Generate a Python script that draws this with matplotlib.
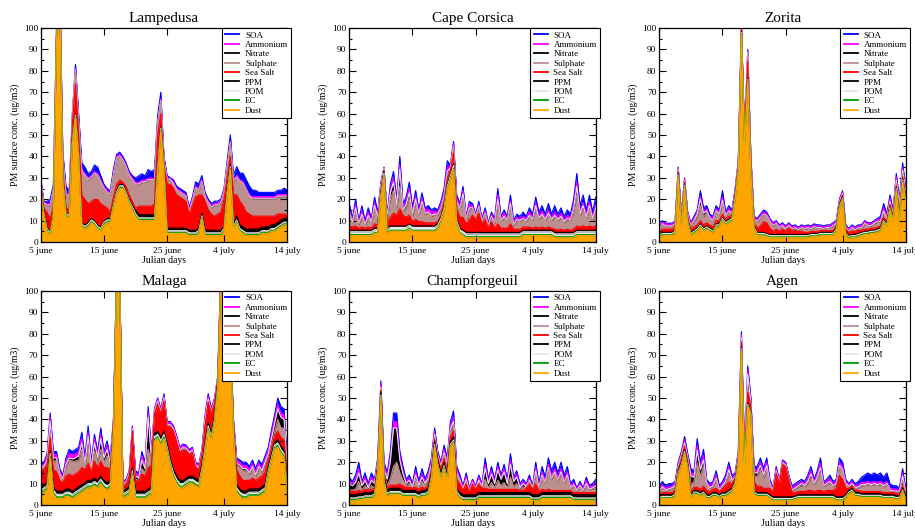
import numpy as np
import matplotlib
matplotlib.use('Agg')
from matplotlib import pyplot as plt
from matplotlib.lines import Line2D
from matplotlib.ticker import MultipleLocator

plt.rcParams['font.family'] = ['Liberation Serif', 'DejaVu Serif']
plt.rcParams['figure.dpi'] = 100

# julian days, one value every 12 h (5 june -> 14 july)
days = np.arange(156, 195.01, 0.5)

# ---------------- Lampedusa (ug/m3) ----------------
lamp_dust = [24, 12, 5, 3, 12, 95, 118, 28, 12, 11, 46, 58, 40, 7, 6, 7, 9, 8, 6, 5,
             8, 9, 9, 16, 22, 25, 25, 22, 18, 15, 12, 10, 10, 10, 10, 10, 10, 32, 52, 33,
             4, 4, 4, 4, 4, 4, 4, 3, 3, 3, 4, 11, 3, 3, 3, 3, 3, 3, 5, 22,
             34, 6, 9, 5, 4, 3, 3, 3, 3, 3, 4, 4, 4, 5, 5, 6, 7, 8, 8]
lamp_ec = [.5, .5, .5, .5, .5, .5, .5, .5, .5, .5, .5, .5, .5, .5, .5, .5, .5, .5, .5, .5,
           .5, .5, .5, .5, .5, .5, .5, .5, .5, .5, .5, .5, .5, .5, .5, .5, .5, .5, .5, .5,
           .5, .5, .5, .5, .5, .5, .5, .5, .5, .5, .5, .5, .5, .5, .5, .5, .5, .5, .5, .5,
           .5, .5, .5, .5, .5, .5, .5, .5, .5, .5, .5, .5, .5, .5, .5, .5, .5, .5, .5]
lamp_pom = [.8, .8, .8, .8, .8, .8, .8, .8, .8, .8, .8, .8, .8, .8, .8, .8, .8, .8, .8, .8,
            .8, .8, .8, .8, .8, .8, .8, .8, .8, .8, .8, .8, .8, .8, .8, .8, .8, .8, .8, .8,
            .8, .8, .8, .8, .8, .8, .8, .8, .8, .8, .8, .8, .8, .8, .8, .8, .8, .8, .8, .8,
            .8, .8, .8, .8, .8, .8, .8, .8, .8, .8, .8, .8, .8, .8, .8, .8, .8, .8, .8]
lamp_ppm = [.6, .6, .6, .6, .6, .6, .6, .6, .6, .6, .6, .6, .6, .6, .6, .6, .6, .6, .6, .6,
            .6, .6, .6, .6, .6, .6, .6, .6, .6, .6, 1.5, 1.5, 1.5, 1.5, 1.5, 1.5, 1.5, .6, .6, .6,
            1.2, 1.2, 1.2, 1.2, 1.2, 1.2, 1.2, 1.2, 1.2, 1.2, 1.2, 1.2, 1.2, 1.2, 1.2, 1.2, 1.2, 1.2, 1.2, 1.2,
            1.2, 1.2, 1.8, 1.8, 1.8, 1.8, 1.8, 1.8, 1.8, 1.8, 1.8, 1.8, 1.8, 1.8, 1.8, 1.8, 1.8, 1.8, 1.8]
lamp_salt = [1, 2, 7, 6, 3, .1, .1, 4, 2, 2, 7, 14, 8, 13, 12, 9, 8, 10, 12, 11,
             7, 5, 3, 3, 3, 2, 1, 2, 2, 2, 1, 4, 4, 4, 4, 4, 5, 16, 6, 1,
             20.5, 20.5, 18.5, 15.5, 14.5, 13.5, 12.5, 7.5, 11.5, 15.5, 15.5, 8.5, 13.5, 9.5, 7.5, 6.5, 7.5, 8.5, 12.5, 5.5,
             3.5, 13.5, 10, 11, 10, 8, 7, 6, 6, 6, 5, 5, 5, 4, 4, 4, 3, 2, 2]
lamp_sulph = [1, 2, 3, 6, 7, 2, 2, 5, 6, 6, 3, 6, 6, 11, 11, 11, 11, 12, 11, 10,
              8, 7, 8, 10, 12, 11, 10, 9, 9, 10, 11, 10, 11, 11, 12, 12, 11, 5, 6, 2,
              2, 2, 2, 2, 2, 2, 2, 1, 2, 4, 2, 6, 2, 3, 3, 5, 4, 4, 3, 5,
              6, 6, 8, 9, 10, 10, 8, 8, 8, 8, 8, 8, 8, 8, 8, 8, 8, 8, 8]
lamp_nitr = [.3, .3, .3, .3, .3, .3, .3, .3, .3, .3, .3, .3, .3, .3, .3, .3, .3, .3, .3, .3,
             .3, .3, .3, .3, .3, .3, .3, .3, .3, .3, .3, .3, .3, .3, .3, .3, .3, .3, .3, .3,
             .3, .3, .3, .3, .3, .3, .3, .3, .3, .3, .3, .3, .3, .3, .3, .3, .3, .3, .3, .3,
             .3, .3, .3, .3, .3, .3, .3, .3, .3, .3, .3, .3, .3, .3, .3, .3, .3, .3, .3]
lamp_ammo = [.8, .5, .8, .8, .8, .8, .8, .8, .8, .8, .8, .8, .8, .8, .8, .8, .8, .8, .8, .8,
             .8, .8, .8, .8, .8, .8, .8, .8, .8, .8, .8, .8, .8, .8, .8, .8, .8, .8, .8, .8,
             .8, .5, .8, .8, .8, .8, .8, .8, .8, .8, .8, .8, .8, .8, .8, .8, .8, .8, .8, .8,
             .8, .8, .8, .8, .8, .8, .8, .8, .8, .8, .8, .8, .8, .8, .8, .8, .8, .8, .8]
lamp_soa = [1, .2, 1, 2, 2, 1, 1, 2, 3, 2, 1, 2, 3, 3, 3, 2, 2, 3, 3, 2,
            1, 1, 1, 2, 1, 1, 1, 1, 1, 1, 2, 3, 3, 2, 4, 3, 4, 3, 3, 1,
            1, .2, 1, 1, 1, 1, 1, 1, 1, 2, 2, 2, 1, 1, 1, 1, 1, 1, 1, 2,
            3, 2, 4, 3, 4, 4, 4, 3, 3, 2, 2, 2, 2, 2, 2, 2, 2, 3, 2]

# ---------------- Cape Corsica ----------------
cors_dust = [3, 3, 3, 3, 3, 3, 3, 3, 4, 4, 20, 30.5, 4, 5, 5, 5, 5, 5, 5, 6,
             5, 5, 5, 5, 5, 5, 5, 5, 6, 9, 14, 24, 29, 34, 8, 4, 3, 2, 2, 2,
             2, 2, 2, 2, 2, 2, 2, 2, 2, 2, 2, 2, 2, 2, 2, 3, 3, 3, 3, 3,
             3, 3, 3, 3, 3, 2, 2, 2, 2, 2, 2, 2, 3, 3, 3, 3, 3, 3, 3]
cors_ec = [.5, .5, .5, .5, .5, .5, .5, .5, .5, .5, .5, .5, .5, .5, .5, .5, .5, .5, .5, .5,
           .5, .5, .5, .5, .5, .5, .5, .5, .5, .5, .5, .5, .5, .5, .5, .5, .5, .5, .5, .5,
           .5, .5, .5, .5, .5, .5, .5, .5, .5, .5, .5, .5, .5, .5, .5, .5, .5, .5, .5, .5,
           .5, .5, .5, .5, .5, .5, .5, .5, .5, .5, .5, .5, .5, .5, .5, .5, .5, .5, .5]
cors_pom = [1.3, 1.3, 1.3, 1.3, 1.3, 1.3, 1.3, 1.3, 1.3, 1.3, 1.3, 1.3, 1.3, 1.3, 1.3, 1.3, 1.3, 1.3, 1.3, 1.3,
            1.3, 1.3, 1.3, 1.3, 1.3, 1.3, 1.3, 1.3, 1.3, 1.3, 1.3, 1.3, 1.3, 1.3, 1.3, 1.3, 1.3, 1.3, 1.3, 1.3,
            1.3, 1.3, 1.3, 1.3, 1.3, 1.3, 1.3, 1.3, 1.3, 1.3, 1.3, 1.3, 1.3, 1.3, 1.3, 1.3, 1.3, 1.3, 1.3, 1.3,
            1.3, 1.3, 1.3, 1.3, 1.3, 1.3, 1.3, 1.3, 1.3, 1.3, 1.3, 1.3, 1.3, 1.3, 1.3, 1.3, 1.3, 1.3, 1.3]
cors_ppm = [.7, .7, .7, .7, .7, .7, .7, .7, .7, .7, .7, .7, .7, .7, .7, .7, .7, .7, .7, .7,
            .7, .7, .7, .7, .7, .7, .7, .7, .7, .7, .7, .7, .7, .7, .7, .7, .7, .7, .7, .7,
            .7, .7, .7, .7, .7, .7, .7, .7, .7, .7, .7, .7, .7, .7, .7, .7, .7, .7, .7, .7,
            .7, .7, .7, .7, .7, .7, .7, .7, .7, .7, .7, .7, .7, .7, .7, .7, .7, .7, .7]
cors_salt = [2, 1.5, 2, 1, 1.5, 1, 1.5, 1, 2, 1.5, 1.5, .5, 2, 4, 6, 5, 8, 5, 4, 4,
             2, 3, 2, 2, 1.5, 1.5, 1.5, 1.5, 1, 1, 2, 3, 2, 5, 5, 5, 6, 4, 6, 8,
             6, 9, 4, 6, 2, 5, 2, 4, 2, 2, 2, 4, 1.5, 1.5, 1.5, 1.5, 1.5, 1.5, 1, 1.5,
             1, 1.5, 1, 1.5, 1, 1.5, 1, 1.5, 1, 1.5, 1, 1.5, 2, 1.5, 2, 1.5, 2, 1.5, 2]
cors_sulph = [4.5, 1.5, 6, 1.5, 4.5, 1, 4, 2, 7, 2.5, 1.5, .7, 1.5, 8.5, 10.5, 3, 10.5, 1.5, 4.5, 7.5,
              2.5, 7.5, 3, 8, 4, 4.5, 3, 3.5, 3, 3, 2, 1.5, .5, 2.5, 2.5, 3.5, 9, 1.5, 4.5, 3,
              1, 2.5, 1, 2.5, 1, 2, 2, 8.5, 3, 4.5, 3, 7.5, 1.5, 4, 3.5, 3.5, 2.5, 4.5, 3.5, 8,
              4, 5, 3.5, 5.5, 3.5, 5.5, 4.5, 5, 3.5, 4, 4.5, 8, 14.5, 5, 7.5, 3.5, 7.5, 3, 7]
cors_nitr = [2, .5, 2.5, .5, 1.5, .5, 1.5, .5, 1.5, 1, .5, .2, 1, 3, 4, 1.5, 8, 1, 1.5, 3,
             1, 2, .5, 1.5, .5, .5, .5, .5, .5, .5, 1, 2, .5, .5, 1, .5, 2, .5, 1, .5,
             .3, .5, .3, .5, .3, .5, .5, 3, .5, 1, .5, 2, .5, .5, .5, .5, .5, 1, .5, 2,
             .5, 1, .5, 1, .5, 1, .5, 1, .5, 1, .5, 1.5, 4, 1, 2, 1, 2, 1, 1.5]
cors_ammo = [1.5, 1, 1.5, 1, 1.5, 1, 1.5, 1, 1.5, 1, 1, .3, 1, 1.5, 2, 1.5, 2, 1.5, 1.5, 2,
             1.5, 1.5, 1, 1.5, 1.5, 1.5, 1.5, 1.5, 1, 1.5, 1.5, 2, 1, 1.5, 1.5, 1.5, 1.5, 1, 1.5, 1,
             .7, 1, .7, 1, .7, 1, 1, 2, 1, 1.5, 1, 1.5, 1, 1, 1, 1, 1, 1.5, 1, 1.5,
             1, 1.5, 1, 1.5, 1, 1.5, 1, 1.5, 1, 1.5, 1, 1.5, 2, 1.5, 1.5, 1.5, 1.5, 1, 1.5]
cors_soa = [2.5, 1, 2.5, .5, 2.5, 1, 2, 1, 2.5, 1.5, 1, .3, 1, 2.5, 3, 1.5, 4, 1.5, 2, 3,
            1.5, 2.5, 1, 2.5, 1, 1.5, 1, 1.5, 1, 1.5, 2, 3, .5, 1, 1.5, 1, 2, .5, 1.5, 1,
            .5, 1.5, .5, 1.5, .5, 1, 1, 3, 1, 1.5, 1, 2.5, 1, 1.5, 1, 2, 1, 2, 1.5, 2.5,
            2, 2.5, 1.5, 3, 1.5, 3, 1.5, 2.5, 1.5, 2.5, 1.5, 3, 4, 2.5, 3.5, 2, 3.5, 2, 3.5]

# ---------------- Zorita ----------------
zor_dust = [2, 3, 3, 3, 3, 4, 30.5, 7, 25.5, 9, 3, 4, 5, 7, 5, 6, 5, 4, 7, 7,
            10, 8, 9, 10, 19.5, 33, 97, 45, 75, 32, 6, 3, 3, 3, 2.5, 2, 2, 2, 2, 2,
            2, 2, 2, 2, 2, 2, 2, 2, 2.5, 2.5, 2.5, 3, 3, 3, 3, 3, 5, 15.5, 19.5, 3,
            1.5, 2, 2, 2.5, 3, 3.5, 3.5, 4, 4, 4.5, 5, 9, 7, 15, 9.5, 24, 10, 28, 19]
zor_ec = [.4, .4, .4, .4, .4, .4, .4, .4, .4, .4, .4, .4, .4, .4, .4, .4, .4, .4, .4, .4,
          .4, .4, .4, .4, .4, .4, .4, .4, .4, .4, .4, .4, .4, .4, .4, .4, .4, .4, .4, .4,
          .4, .4, .4, .4, .4, .4, .4, .4, .4, .4, .4, .4, .4, .4, .4, .4, .4, .4, .4, .4,
          .4, .4, .4, .4, .4, .4, .4, .4, .4, .4, .4, .4, .4, .4, .4, .4, .4, .4, .4]
zor_pom = [.6, .6, .6, .6, .6, .6, .6, .6, .6, .6, .6, .6, .6, .6, .6, .6, .6, .6, .6, .6,
           .6, .6, .6, .6, .6, .6, .6, .6, .6, .6, .6, .6, .6, .6, .6, .6, .6, .6, .6, .6,
           .6, .6, .6, .6, .6, .6, .6, .6, .6, .6, .6, .6, .6, .6, .6, .6, .6, .6, .6, .6,
           .6, .6, .6, .6, .6, .6, .6, .6, .6, .6, .6, .6, .6, .6, .6, .6, .6, .6, .6]
zor_ppm = [.5, .5, .5, .5, .5, .5, .5, .5, .5, .5, .5, .5, .5, .5, .5, .5, .5, .5, .5, .5,
           .5, .5, .5, .5, .5, .5, .5, .5, .5, .5, .5, .5, .5, .5, .5, .5, .5, .5, .5, .5,
           .5, .5, .5, .5, .5, .5, .5, .5, .5, .5, .5, .5, .5, .5, .5, .5, .5, .5, .5, .5,
           .5, .5, .5, .5, .5, .5, .5, .5, .5, .5, .5, .5, .5, .5, .5, .5, .5, .5, .5]
zor_salt = [1, 1.5, 1.5, 1.5, 1.5, 1.5, 1, 1, 1, 1, 1.5, 1.5, 1.5, 1.5, 1.5, 1.5, 1.5, 1.5, 1.5, 1.5,
            1.5, 1, 1.5, 1, 1, 1, 1.5, 1.5, 8, 3, 1.5, 2, 3, 5, 5, 3, 1.5, 2.5, 1.5, 2.5,
            1.5, 3, 2, 2, 1.5, 1.5, 1, 1, 1, 1, 1, .8, .8, .8, .8, .8, .8, .8, .8, 1.5,
            1.5, 1.5, 1.5, 1.5, 1, 1, 1, 1, 1, 1, 1, 1, 1, 1, 1, 1, 1, 1, 1]
zor_sulph = [1, 2.2, 1.2, 1.2, 1.2, 1.2, .5, 1.9, .5, .9, 1.4, 2.5, 3.5, 7, 4, 4.5, 2.5, 2.5, 4, 2.5,
             5, 1, 2, .5, .5, .5, .5, .5, 3.7, 2, 1.3, 2.9, 3.6, 3.2, 3.1, 2.8, 2.4, 2.4, 1.4, 1.4,
             .9, .9, .4, .9, .4, 1.4, 1.4, 1.9, .9, 1.9, 1.4, 1.1, .6, 1.1, 1.1, 2.1, 1.1, .6, .6, .4,
             .4, 1.4, .4, .9, .9, 2.4, 1.4, .9, 1.9, 2.4, 1.7, 2, 1, .5, .5, 1, 4, 1.5, .5]
zor_nitr = [.3, .3, .3, .3, .3, .3, .3, .3, .3, .3, .3, .5, 1.5, 3, 1.5, 1, .5, .5, .5, .5,
            1.5, .5, .5, .3, .5, .5, .3, .3, .3, .3, .3, .3, .3, .3, .3, .3, .3, .3, .3, .3,
            .3, .3, .3, .3, .3, .3, .3, .3, .3, .3, .3, .3, .3, .3, .3, .3, .3, .3, .3, .3,
            .3, .3, .3, .3, .3, .3, .3, .3, .3, .3, .3, 1, .5, 1, .5, 1.5, 1, 1.5, 1]
zor_ammo = [.8, .8, .8, .8, .8, .8, .8, .8, .8, .8, .8, 1, 1, 1.5, 1, 1, 1, 1, 1, 1,
            1.5, 1, 1, .8, 1, 1, .8, .8, 1, .8, .8, .8, .8, 1, .8, .8, .8, .8, .8, .8,
            .8, .8, .8, .8, .8, .8, .8, .8, .8, .8, .8, .8, .8, .8, .8, .8, .8, .8, .8, .8,
            .8, .8, .8, .8, .8, .8, .8, .8, .8, .8, 1, 1.5, 1, 1.5, 1, 1.5, 1, 1.5, 1]
zor_soa = [.5, .7, .5, .5, .5, .5, .4, .5, .4, .5, .5, 1, 1, 2.5, 1.5, 1.5, 1, 1, 1.5, 1,
           3, 1, 1.5, .9, 1, .5, .4, .4, .5, .4, .6, .5, .8, 1, .8, .6, .5, .5, .5, .5,
           .5, .5, .5, .5, .5, .5, .5, .5, .5, .5, .5, .5, .5, .5, .5, .5, .5, .5, .5, .5,
           .5, .5, .5, .5, .5, .5, .5, .5, .5, .5, 1.5, 2, 1, 1.5, 1, 1.5, 1.5, 2, 1]

# ---------------- Malaga ----------------
mal_dust = [5, 6, 7, 22, 5, 3, 3, 3, 4, 4, 3, 4, 5, 6, 7, 8, 8, 9, 8, 10,
            8, 7, 8, 33, 104.5, 104.5, 3, 4, 5, 14, 3, 3, 3, 3, 4, 5, 30, 31, 28, 31,
            25, 18, 13, 10, 8, 8, 9, 10, 10, 9, 8, 15, 25, 35, 30, 38, 53.5, 104.5, 102.5, 104.5,
            74.5, 32.5, 6, 4, 3, 3, 4, 4, 4, 4, 5, 6, 14, 20, 26, 27, 24, 22, 6]
mal_ec = [.8, .8, .8, .8, .8, .8, .8, .8, .8, .8, .8, .8, .8, .8, .8, .8, .8, .8, .8, .8,
          .8, .8, .8, .8, .8, .8, .8, .8, .8, .8, .8, .8, .8, .8, .8, .8, .8, .8, .8, .8,
          .8, .8, .8, .8, .8, .8, .8, .8, .8, .8, .8, .8, .8, .8, .8, .8, .8, .8, .8, .8,
          .8, .8, .8, .8, .8, .8, .8, .8, .8, .8, .8, .8, .8, .8, .8, .8, .8, .8, .8]
mal_pom = [1.2, 1.2, 1.2, 1.2, 1.2, 1.2, 1.2, 1.2, 1.2, 1.2, 1.2, 1.2, 1.2, 1.2, 1.2, 1.2, 1.2, 1.2, 1.2, 1.2,
           1.2, 1.2, 1.2, 1.2, 1.2, 1.2, 1.2, 1.2, 1.2, 1.2, 1.2, 1.2, 1.2, 1.2, 1.2, 1.2, 1.2, 1.2, 1.2, 1.2,
           1.2, 1.2, 1.2, 1.2, 1.2, 1.2, 1.2, 1.2, 1.2, 1.2, 1.2, 1.2, 1.2, 1.2, 1.2, 1.2, 1.2, 1.2, 1.2, 1.2,
           1.2, 1.2, 1.2, 1.2, 1.2, 1.2, 1.2, 1.2, 1.2, 1.2, 1.2, 1.2, 1.2, 1.2, 1.2, 1.2, 1.2, 1.2, 1.2]
mal_ppm = [1.5, 1.5, 1.5, 1.5, 1.5, 1.5, 1.5, 1.5, 1.5, 1.5, 1.5, 1.5, 1.5, 1.5, 1.5, 1.5, 1.5, 1.5, 1.5, 1.5,
           1.5, 1.5, 1.5, 1.5, 1.5, 1.5, 1.5, 1.5, 1.5, 1.5, 1.5, 1.5, 1.5, 1.5, 1.5, 1.5, 1.5, 1.5, 1.5, 1.5,
           1.5, 1.5, 1.5, 1.5, 1.5, 1.5, 1.5, 1.5, 1.5, 1.5, 1.5, 1.5, 1.5, 1.5, 1.5, 1.5, 1.5, 1.5, 1.5, 1.5,
           1.5, 1.5, 1.5, 1.5, 1.5, 1.5, 1.5, 1.5, 1.5, 1.5, 1.5, 1.5, 1.5, 1.5, 1.5, 1.5, 1.5, 1.5, 1.5]
mal_salt = [8, 7, 8, 6, 8, 9, 5, 4, 6, 7, 7, 7, 7, 8, 6, 8, 4, 8, 6, 7,
            6, 7, 5, .5, .5, .5, 2.5, 2, 5, 17, 5, 4.5, 8, 7, 10, 10, 9, 12.5, 11, 14,
            8, 15, 18, 16, 13, 14, 13, 10, 11, 5, 5, 5, 8.5, 9.5, 9, 6, 1.5, .5, .5, .5,
            .5, 2, 7, 6, 5, 5, 4, 5, 4, 5, 5, 6, 3.5, 3, 3, 4, 4, 5, 5]
mal_sulph = [1, 1, 1.5, 2.5, 3.5, 5.5, 2.5, 1, 4.5, 6.5, 7, 6, 5.5, 8.5, 1.5, 7.5, .5, 4.5, 2.5, 5.5,
             2.5, 5.5, 1, .5, .5, .5, .4, .9, .9, .5, .5, .5, 2.5, 1.5, 8.5, 1.5, .5, 1, .5, 1,
             .5, .5, .5, 1, .5, 1, .5, .5, .5, .5, .5, .5, .5, .5, .5, .5, .5, .5, .5, .5,
             .5, .5, 2, 4, 4.5, 4.5, 2.5, 4.5, 1.5, 4.5, 1.5, 3, 1, 1.5, 1.5, 5.5, 4.5, 5.5, .5]
mal_nitr = [.5, .5, 1, 5, 2, 1, .5, .5, 1, 1, 1, 1.5, 2, 3, 1, 5, 1, 4, 2, 5,
            2, 3, 1.5, .5, .2, .2, .3, .3, .3, .5, 1.5, 1, 4, 2, 15, 2, .5, .5, .5, .5,
            .5, .5, .5, .5, .5, .5, .5, .5, .5, .5, .5, .5, 2, 1, .5, .5, .2, .2, .2, .2,
            .2, .3, 1, 1, 1, 1, 1, 1, 1, 1, 1, 1.5, 2, 3, 4, 5, 5, 4, 2]
mal_ammo = [1, 1, 1.5, 2, 1.5, 1.5, 1.5, 1, 1.5, 2, 2, 2, 2, 2, 1.5, 2, 1.5, 2, 1.5, 2,
            1.5, 2, 1.5, 1, .5, .5, .8, .8, .8, 1, 1.5, 1.5, 2, 1.5, 2, 1.5, 1, 1, 1, 1,
            1, 1, 1, 1, 1, 1, 1, 1, 1, 1, 1, 1, 1.5, 1.5, 1, 1, .5, .5, .5, .5,
            .5, .7, 1.5, 1.5, 1.5, 1.5, 1.5, 1.5, 1.5, 1.5, 1.5, 1.5, 1.5, 2, 2, 2, 2, 2, 1.5]
mal_soa = [1, 1, 1.5, 2, 1.5, 1.5, 1, 1, 1.5, 2, 1.5, 2, 2, 3, 1.5, 3, 1.5, 2, 1.5, 3,
           1.5, 2, 1.5, 1, .3, .3, .5, .5, .5, .5, 1, 1, 2, 1.5, 3, 1.5, .5, .5, .5, 1,
           .5, .5, .5, .5, .5, .5, .5, .5, .5, .5, .5, .5, 1, 1, .5, .5, .3, .3, .3, .3,
           .3, .5, 1, 1, 1.5, 1.5, 1.5, 1.5, 1.5, 1.5, 1.5, 1.5, 1.5, 2, 2, 3, 3, 3, 1.5]

# ---------------- Champforgeuil ----------------
cha_dust = [2, 2, 2, 2.5, 2.5, 3, 3, 3, 4, 15, 50, 10, 4, 5, 5, 5, 5, 4, 4, 4,
            4, 4, 3, 4, 4, 5, 12, 27, 18, 12, 17, 11, 27, 29, 5, 3, 2, 2, 2, 2,
            2, 3, 3, 3, 3, 3, 3, 3, 3, 3, 3, 3, 3, 3, 3, 3, 3, 3, 2, 2,
            2, 3, 3, 3, 3, 3, 3, 3, 3, 3, 3, 2, 2, 2, 2, 2, 2, 2, 2]
cha_ec = [.5, .5, .5, .5, .5, .5, .5, .5, .5, .5, .5, .5, .5, .5, .5, .5, .5, .5, .5, .5,
          .5, .5, .5, .5, .5, .5, .5, .5, .5, .5, .5, .5, .5, .5, .5, .5, .5, .5, .5, .5,
          .5, .5, .5, .5, .5, .5, .5, .5, .5, .5, .5, .5, .5, .5, .5, .5, .5, .5, .5, .5,
          .5, .5, .5, .5, .5, .5, .5, .5, .5, .5, .5, .5, .5, .5, .5, .5, .5, .5, .5]
cha_pom = [.8, .8, .8, .8, .8, .8, .8, .8, .8, .8, .8, .8, .8, .8, .8, .8, .8, .8, .8, .8,
           .8, .8, .8, .8, .8, .8, .8, .8, .8, .8, .8, .8, .8, .8, .8, .8, .8, .8, .8, .8,
           .8, .8, .8, .8, .8, .8, .8, .8, .8, .8, .8, .8, .8, .8, .8, .8, .8, .8, .8, .8,
           .8, .8, .8, .8, .8, .8, .8, .8, .8, .8, .8, .8, .8, .8, .8, .8, .8, .8, .8]
cha_ppm = [1.5, 1.5, 1.5, 1.5, 1.5, 1.5, 1.5, 1.5, 1.5, 1.5, 1.5, 1.5, 1.5, 1.5, 1.5, 1.5, 1.5, 1.5, 1.5, 1.5,
           1.5, 1.5, 1.5, 1.5, 1.5, 1.5, 1.5, 1.5, 1.5, 1.5, 1.5, 1.5, 1.5, 1.5, 1.5, 1.5, 1.5, 1.5, 1.5, 1.5,
           1.5, 1.5, 1.5, 1.5, 1.5, 1.5, 1.5, 1.5, 1.5, 1.5, 1.5, 1.5, 1.5, 1.5, 1.5, 1.5, 1.5, 1.5, 1.5, 1.5,
           1.5, 1.5, 1.5, 1.5, 1.5, 1.5, 1.5, 1.5, 1.5, 1.5, 1.5, 1.5, 1.5, 1.5, 1.5, 1.5, 1.5, 1.5, 1.5]
cha_salt = [1.5, 1.5, 1.5, 1.5, 1, 1.5, 1, 1.5, 1, 1, 1, 1.5, 1.5, 1.5, 1.5, 1.5, 2, 2, 1.5, 1.5,
            1, 1.5, 1.5, 1.5, 1, 1.5, 1.5, 1, 1, 2, 2, 2, 2, 3, 4, 4, 2, 5, 1.5, 5,
            2.5, 4, 2, 2, 1.5, 1.5, 1.5, 1.5, 1.5, 1.5, 1.5, 1.5, 1.5, 1.5, 1, 1, 2, 4, 2.5, 5,
            1.5, 1.5, 1, 1.5, 1, 1, 1, 1, 1, 1, 1, 1, 1, 1, 1, 1, 1, 1, 1]
cha_sulph = [.7, .7, 1.2, 4.2, .7, 1.7, .2, 1.7, .2, .2, .2, .7, .7, 3.2, 8.7, 10.7, 5.2, 2.7, .7, 1.7,
             .2, 3.7, .7, 2.7, 1.2, 1.7, 1.7, 1.2, .7, .7, 1.7, 2.2, 2.7, 2.7, 2.2, 1.2, .2, 1.2, .2, .2,
             .2, .7, .2, 4.2, .7, 3.2, .7, 4.2, 1.7, 3.2, .7, 5.7, 1.2, 2.7, .2, 1.7, .2, 1.2, .2, 4.2,
             1.2, 5.7, 3.2, 9.2, 5.2, 7.7, 4.2, 7.7, 3.2, 6.2, .7, 2.7, .7, 2.2, .7, 3.2, 1.2, 1.7, 2.2]
cha_nitr = [3, 2, 3, 4, 2, 2.5, 1, 2.5, 2, 1, 1, 2, 3, 8, 18, 16, 6, 3, 1, 1.5,
            .5, 2, 1, 2, 1, 1.5, 1, 1, .5, .5, 1, 1, 1, 1.5, 1, .5, .5, 1, .3, .5,
            .3, 1, .5, 5, 2, 4, 2, 5, 3, 5, 2, 6, 2.5, 3, 1, 1.5, .5, .5, .3, 2,
            .5, 1, .5, 1, .5, 1, .5, 1, .5, 1, .5, 1, .3, 1, .3, 1, .5, .5, 1]
cha_ammo = [1.5, 1, 1.5, 2, 1, 1.5, 1, 1.5, 1, 1, 1.5, 1.5, 1.5, 2, 3, 3, 2, 1.5, 1, 1,
            .8, 1.5, 1, 1.5, 1, 1.5, 1.5, 1.5, 1, 1, 1.5, 1.5, 1.5, 2, 1.5, 1, .8, 1.5, .7, 1,
            .7, 1.5, 1, 2, 1, 1.5, 1, 1.5, 1, 1.5, 1, 2, 1, 1.5, 1, 1, .8, 1, .7, 1.5,
            1, 1.5, 1, 1.5, 1.5, 1.5, 1.5, 1.5, 1.5, 1.5, 1, 1, .7, 1, .7, 1.5, .8, 1, 1.5]
cha_soa = [1.5, 1, 2, 3, 1, 2, 1, 2, 1, 1, 1.5, 1.5, 1.5, 2.5, 4, 4, 2, 2, 1, 1.5,
           .7, 2.5, 1, 2.5, 1, 2, 1.5, 1.5, 1, 1, 2, 1.5, 2, 3, 1.5, 1.5, .7, 1.5, .5, .5,
           .5, 1, .5, 3, 1, 2, 1, 2, 1, 2, 1, 3, 1, 1.5, 1, 1, .7, 1.5, .5, 2.5,
           1, 2.5, 1.5, 3, 2, 3, 2, 3, 2, 2.5, 1, 1.5, .5, 1, .5, 1.5, .7, 1, 1.5]

# ---------------- Agen ----------------
agen_dust = [2.5, 3, 3, 3, 3, 4, 14, 18, 24, 17, 3, 5, 5, 4, 5, 3, 3, 4, 4, 3,
             4, 4, 5, 6, 9.5, 19, 72, 18, 46, 42, 5, 4, 4, 4, 4, 3, 2, 2, 2, 2,
             2, 2, 2, 2.5, 3, 3, 3, 3, 3, 3, 3, 3, 3, 3, 3, 3, 2, 2, 2, 3,
             5, 6, 4, 4, 3.5, 3.5, 3.5, 3.5, 3.5, 3.5, 3.5, 3, 3, 3, 3, 2.5, 2.5, 6, 2]
agen_ec = [.4, .4, .4, .4, .4, .4, .4, .4, .4, .4, .4, .4, .4, .4, .4, .4, .4, .4, .4, .4,
           .4, .4, .4, .4, .4, .4, .4, .4, .4, .4, .4, .4, .4, .4, .4, .4, .4, .4, .4, .4,
           .4, .4, .4, .4, .4, .4, .4, .4, .4, .4, .4, .4, .4, .4, .4, .4, .4, .4, .4, .4,
           .4, .4, .4, .4, .4, .4, .4, .4, .4, .4, .4, .4, .4, .4, .4, .4, .4, .4, .4]
agen_pom = [.6, .6, .6, .6, .6, .6, .6, .6, .6, .6, .6, .6, .6, .6, .6, .6, .6, .6, .6, .6,
            .6, .6, .6, .6, .6, .6, .6, .6, .6, .6, .6, .6, .6, .6, .6, .6, .6, .6, .6, .6,
            .6, .6, .6, .6, .6, .6, .6, .6, .6, .6, .6, .6, .6, .6, .6, .6, .6, .6, .6, .6,
            .6, .6, .6, .6, .6, .6, .6, .6, .6, .6, .6, .6, .6, .6, .6, .6, .6, .6, .6]
agen_ppm = [.8, .8, .8, .8, .8, .8, .8, .8, .8, .8, .8, .8, .8, .8, .8, .8, .8, .8, .8, .8,
            .8, .8, .8, .8, .8, .8, .8, .8, .8, .8, .8, .8, .8, .8, .8, .8, .8, .8, .8, .8,
            .8, .8, .8, .8, .8, .8, .8, .8, .8, .8, .8, .8, .8, .8, .8, .8, .8, .8, .8, .8,
            .8, .8, .8, .8, .8, .8, .8, .8, .8, .8, .8, .8, .8, .8, .8, .8, .8, .8, .8]
agen_salt = [1, 1, 1, 1, 1, 1, 1, 1.5, 1.5, 1.5, 1.5, 1.5, 1.5, 1.5, 2, 2, 1.5, 1.5, 2, 1.5,
             2, 3, 4, 2, 1, 1, 2, 1.5, 5, 2, 4, 3, 3, 2, 2, 3, 2, 11, 6, 15,
             14, 8, 2, 1.5, 1.5, 1.5, 1.5, 2, 2, 1.5, 2, 2, 1.5, 2, 2, 2, 4, 10, 8, 3,
             1, 1, 1, 1, 1, 1, 1, 1, 1, 1, 1, 1, 1, 1, 1, 1, 1, 1, 1]
agen_sulph = [1.2, 2.2, .7, 1.2, 1.7, 1.7, .7, 1.2, .7, 1.2, 3.2, 2.7, 11.2, 6.2, 9.2, 2.2, 1.2, 1.2, 3.7, .2,
              .7, 1.2, 3.7, .7, .2, .7, 1.2, 1.2, 2.2, .2, 2.7, 4.7, 7.7, 4.7, 8.7, 1.7, .7, .7, .2, .6,
              .6, .6, .7, 1.7, 2.2, 2.7, 2.2, 3.2, 5.7, 3.2, 5.2, 8.2, 2.2, 2.7, 3.2, 1.7, 1.7, 3.7, 3.7, 1.7,
              .7, .7, .7, 1.2, 2.7, 2.7, 3.2, 2.7, 3.2, 2.7, 3.2, 2.7, 3.7, .7, .2, .7, .7, 2.7, .7]
agen_nitr = [.5, .5, .5, .5, .5, .5, .5, .5, 1, .5, 4, 2, 6, 3, 3, 1, .5, .5, 1, .5,
             .5, 1, 2, 1, .5, .5, 1, .5, 6, 1, 1.5, 1.5, 2, 1.5, 2, .5, .3, .5, .3, .3,
             .3, .3, .5, .5, .5, 1, .5, 1, 2, .5, 1, 2.5, .5, .5, 1, .5, .5, 1, 1, .5,
             .3, .5, .5, .5, .5, .5, .5, .5, .5, .5, .5, .5, .5, .5, .5, .5, .3, 2, .3]
agen_ammo = [1, 1, 1, 1, 1, 1, 1, 1, 1.5, 1, 1.5, 1.5, 2.5, 1.5, 2, 1, 1, 1, 1.5, 1,
             1, 1.5, 1.5, 1, 1, 1, 1.5, 1, 2, 1.5, 1.5, 1.5, 1.5, 1.5, 1.5, 1, .7, 1, .7, .8,
             .8, .8, 1, 1, 1, 1, 1, 1.5, 1.5, 1, 1.5, 2, 1, 1, 1.5, 1, 1, 1.5, 1.5, 1,
             .7, 1, 1, 1, 1, 1, 1, 1, 1, 1, 1, 1, 1, 1, 1, 1, .7, 1.5, .7]
agen_soa = [1, 1.5, 1, 1.5, 1, 1, 1, 1, 1.5, 1, 2, 1.5, 3, 2, 3, 1, 1, 1, 2, 1,
            1, 1.5, 2, 1.5, 1, 1, 1.5, 1, 2, 1.5, 1.5, 1.5, 2, 1.5, 2, 1, .5, 1, .5, .5,
            .5, .5, 1, 1, 1, 1, 1, 1.5, 2, 1, 1.5, 2.5, 1, 1, 1.5, 1, 1, 2, 2, 1,
            .5, 1, 1, 1.5, 2.5, 3.5, 4, 3.5, 4, 3.5, 4, 3, 4, 2, 1.5, 1.5, 1, 2, .5]

names = ['SOA', 'Ammonium', 'Nitrate', 'Sulphate', 'Sea Salt', 'PPM', 'POM', 'EC', 'Dust']
fill_colors = ['#0000ff', '#ff00ff', '#000000', '#bc8f8f', '#ff0000', '#000000', '#e6e6e6', '#009a00', '#ffa500']
line_colors = ['#0000ff', '#ff00ff', '#e8e8e8', '#bc8f8f', '#ff0000', '#000000', '#e6e6e6', '#009a00', '#ffa500']
legend_colors = ['#0000ff', '#ff00ff', '#000000', '#bc8f8f', '#ff0000', '#000000', '#e6e6e6', '#009a00', '#ffa500']

fig = plt.figure(figsize=(9.15, 5.29))

col_x = [0.0445, 0.3817, 0.7205]
row_y = [0.5425, 0.0454]
w, h = 0.2694, 0.4045


def panel(rect, title, dust, ec, pom, ppm, salt, sulph, nitr, ammo, soa):
    ax = fig.add_axes(rect)
    layers = np.array([dust, ec, pom, ppm, salt, sulph, nitr, ammo, soa], dtype=float)
    tops = np.cumsum(layers, axis=0)[::-1]   # SOA top first, like the stacked sets
    for top, fc, lc in zip(tops, fill_colors, line_colors):
        ax.fill_between(days, 0, top, color=fc, lw=0)
        ax.plot(days, top, color=lc, lw=0.8)
    ax.set_xlim(156, 195)
    ax.set_ylim(0, 100)
    ax.set_xticks([156, 166, 176, 185, 195], ['5 june', '15 june', '25 june', '4 july', '14 july'])
    ax.yaxis.set_major_locator(MultipleLocator(10))
    ax.yaxis.set_minor_locator(MultipleLocator(5))
    ax.tick_params(which='both', direction='in', top=True, right=True, labelsize=6.8, width=0.8)
    ax.tick_params(which='major', length=5, pad=2)
    ax.tick_params(axis='x', which='major', pad=3.5)
    ax.tick_params(which='minor', length=2.5)
    for s in ax.spines.values():
        s.set_linewidth(0.9)
    ax.set_xlabel('Julian days', fontsize=7, labelpad=0.5)
    ax.set_ylabel('PM surface conc. (ug/m3)', fontsize=7, labelpad=3)
    ax.set_title(title, fontsize=11, pad=4)
    handles = [Line2D([], [], color=c, lw=1.3) for c in legend_colors]
    leg = ax.legend(handles, names, loc='upper left', bbox_to_anchor=(0.735, 1.0),
                    fontsize=6.5, frameon=True, fancybox=False, edgecolor='black',
                    framealpha=1, borderpad=0.35, labelspacing=0.12, handlelength=1.6,
                    handletextpad=0.6, borderaxespad=0)
    leg.get_frame().set_linewidth(0.8)
    return ax


panel([col_x[0], row_y[0], w, h], 'Lampedusa', lamp_dust, lamp_ec, lamp_pom, lamp_ppm,
      lamp_salt, lamp_sulph, lamp_nitr, lamp_ammo, lamp_soa)
panel([col_x[1], row_y[0], w, h], 'Cape Corsica', cors_dust, cors_ec, cors_pom, cors_ppm,
      cors_salt, cors_sulph, cors_nitr, cors_ammo, cors_soa)
panel([col_x[2], row_y[0], w, h], 'Zorita', zor_dust, zor_ec, zor_pom, zor_ppm,
      zor_salt, zor_sulph, zor_nitr, zor_ammo, zor_soa)
panel([col_x[0], row_y[1], w, h], 'Malaga', mal_dust, mal_ec, mal_pom, mal_ppm,
      mal_salt, mal_sulph, mal_nitr, mal_ammo, mal_soa)
panel([col_x[1], row_y[1], w, h], 'Champforgeuil', cha_dust, cha_ec, cha_pom, cha_ppm,
      cha_salt, cha_sulph, cha_nitr, cha_ammo, cha_soa)
panel([col_x[2], row_y[1], w, h], 'Agen', agen_dust, agen_ec, agen_pom, agen_ppm,
      agen_salt, agen_sulph, agen_nitr, agen_ammo, agen_soa)

fig.savefig('out.png', dpi=100)
